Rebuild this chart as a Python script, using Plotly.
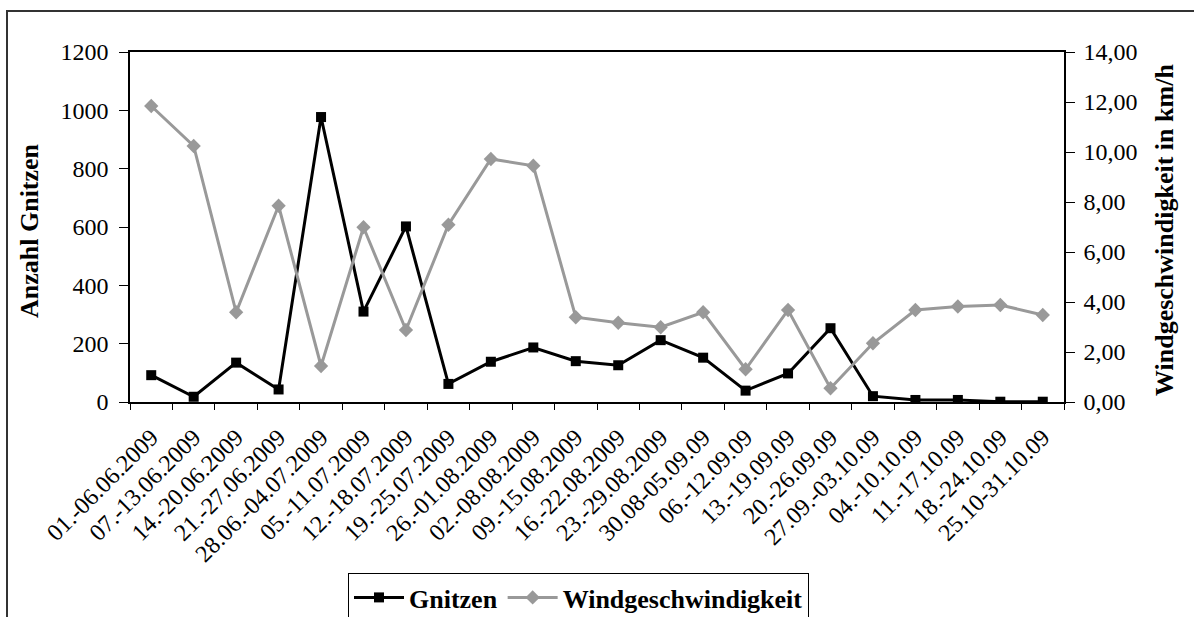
import plotly.graph_objects as go

# Weekly periods (Jun - Oct 2009)
weeks = [
    "01.-06.06.2009", "07.-13.06.2009", "14.-20.06.2009", "21.-27.06.2009",
    "28.06.-04.07.2009", "05.-11.07.2009", "12.-18.07.2009", "19.-25.07.2009",
    "26.-01.08.2009", "02.-08.08.2009", "09.-15.08.2009", "16.-22.08.2009",
    "23.-29.08.2009", "30.08-05.09.09", "06.-12.09.09", "13.-19.09.09",
    "20.-26.09.09", "27.09.-03.10.09", "04.-10.10.09", "11.-17.10.09",
    "18.-24.10.09", "25.10-31.10.09",
]

# Number of midges caught per week
gnitzen = [92, 18, 135, 43, 977, 310, 602, 62, 138, 187, 140,
           126, 212, 152, 39, 98, 253, 20, 7, 7, 1, 1]

# Mean wind speed per week (km/h)
wind = [11.84, 10.24, 3.59, 7.85, 1.44, 6.99, 2.88, 7.09, 9.72, 9.45, 3.39,
        3.17, 2.99, 3.59, 1.31, 3.68, 0.55, 2.35, 3.68, 3.82, 3.88, 3.48]

left_ticks = [0, 200, 400, 600, 800, 1000, 1200]
right_ticks = [0, 2, 4, 6, 8, 10, 12, 14]

W, H = 1194, 617
L, R, T, B = 130, 1064, 52, 402  # plot area in pixels
pw, ph = R - L, B - T


def px(x):
    return (x - L) / pw


def py(y):
    return (B - y) / ph


FONT = "Liberation Serif, Times New Roman, serif"

fig = go.Figure()
fig.add_trace(go.Scatter(
    x=weeks, y=gnitzen, name="Gnitzen", mode="lines+markers",
    line=dict(color="black", width=3),
    marker=dict(symbol="square", size=10, color="black"),
    yaxis="y",
))
fig.add_trace(go.Scatter(
    x=weeks, y=wind, name="Windgeschwindigkeit", mode="lines+markers",
    line=dict(color="#999999", width=3),
    marker=dict(symbol="diamond", size=11, color="#999999"),
    yaxis="y2",
))

fig.update_layout(
    width=W, height=H,
    margin=dict(l=L, r=W - R, t=T, b=H - B, autoexpand=False),
    paper_bgcolor="white", plot_bgcolor="white",
    separators=",.",
    font=dict(family=FONT, size=23, color="black"),
    showlegend=True,
    legend=dict(
        orientation="h", x=px(348), y=py(573), xanchor="left", yanchor="top",
        bordercolor="black", borderwidth=1, bgcolor="white",
        font=dict(family=FONT, size=26, color="black", weight="bold"),
        itemwidth=50, tracegroupgap=0,
    ),
    xaxis=dict(
        type="category", tickangle=-45, tickson="boundaries",
        ticks="outside", ticklen=6, tickcolor="black", tickwidth=1,
        ticklabelstandoff=10,
        showline=True, linecolor="black", linewidth=1.5, mirror=True,
        showgrid=False, zeroline=False,
        tickfont=dict(family=FONT, size=24, color="black"),
        range=[-0.5, len(weeks) - 0.5],
    ),
    yaxis=dict(
        range=[0, 1200], tickvals=left_ticks,
        ticks="outside", ticklen=9, tickcolor="black", tickwidth=1,
        ticklabelstandoff=6,
        showline=True, linecolor="black", linewidth=1.5,
        showgrid=False, zeroline=False,
        tickfont=dict(family=FONT, size=24, color="black"),
    ),
    yaxis2=dict(
        range=[0, 14], tickvals=right_ticks, tickformat=".2f",
        overlaying="y", side="right",
        ticks="outside", ticklen=9, tickcolor="black", tickwidth=1,
        ticklabelstandoff=4,
        showline=True, linecolor="black", linewidth=1.5,
        showgrid=False, zeroline=False,
        tickfont=dict(family=FONT, size=24, color="black"),
    ),
)

# Axis titles
fig.add_annotation(
    text="<b>Anzahl Gnitzen</b>", xref="paper", yref="paper",
    x=px(29), y=py(231), textangle=-90, showarrow=False,
    xanchor="center", yanchor="middle",
    font=dict(family=FONT, size=26, color="black"),
)
fig.add_annotation(
    text="<b>Windgeschwindigkeit in km/h</b>", xref="paper", yref="paper",
    x=px(1164), y=py(230), textangle=-90, showarrow=False,
    xanchor="center", yanchor="middle",
    font=dict(family=FONT, size=26, color="black"),
)

# Outer chart frame
fig.add_shape(
    type="rect", xref="paper", yref="paper",
    x0=px(7), x1=px(W + 20), y0=py(H + 20), y1=py(11),
    line=dict(color="#333333", width=2), layer="below",
)

fig.write_html("out.html")
